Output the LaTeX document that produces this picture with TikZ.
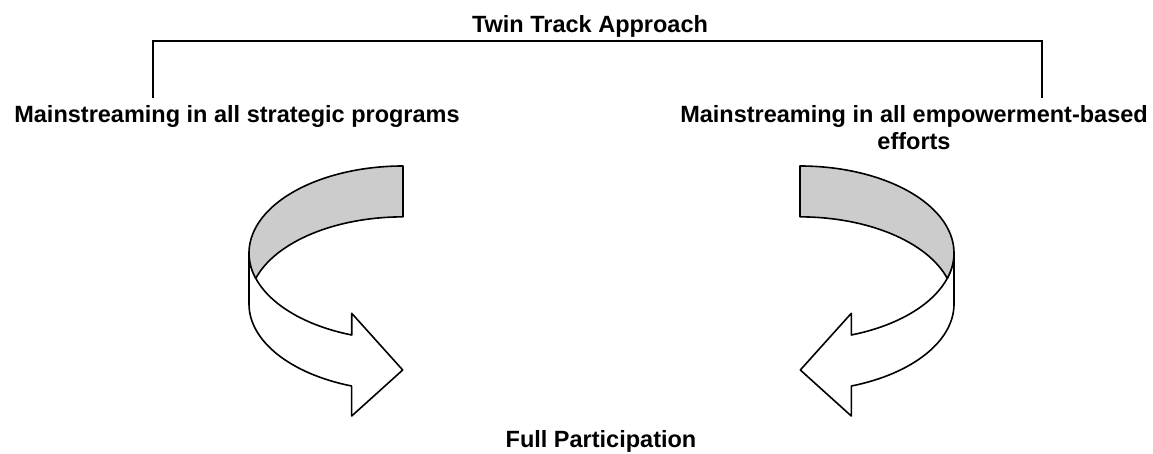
\documentclass[tikz,border=0pt]{standalone}
\usepackage{fontspec}
\setmainfont{Liberation Sans}
\definecolor{ribbon}{gray}{0.8}
\tikzset{
  txt/.style={font=\bfseries\fontsize{23.5}{27}\selectfont, inner sep=0pt, anchor=base},
  band/.style={draw=black, line width=1.6pt, line join=round},
  bracket/.style={draw=black, line width=1.8pt}
}
% one curled arrow, drawn with its turn on the left
\newcommand{\curlarrow}{%
  \draw[band, fill=white] (249,201) -- (249,150)
    arc[start angle=180, end angle=250.5, x radius=154, y radius=87]
    -- (351.7,38) -- (402.7,84) -- (351.7,140.7) -- (351.7,119)
    arc[start angle=250.5, end angle=180, x radius=154, y radius=87] -- cycle;
  \draw[band, fill=ribbon] (403,288)
    arc[start angle=90, end angle=197, x radius=154, y radius=87]
    arc[start angle=163, end angle=90, x radius=154, y radius=87] -- cycle;
}
\begin{document}
\begin{tikzpicture}[x=1pt, y=1pt]
  \useasboundingbox (0,0) rectangle (1153,454);

  \node[txt] (title) at (590,421) {Twin Track Approach};
  \node[txt] (strategic) at (237,331) {Mainstreaming in all strategic programs};
  \node[txt, align=center] (empower) at (914,304) {Mainstreaming in all empowerment-based\\efforts};
  \node[txt] (full) at (601,6) {Full Participation};

  \coordinate (bl) at (153,356);
  \coordinate (tl) at (153,413);
  \coordinate (br) at (1042,356);
  \draw[bracket] (bl) -- (tl) -| (br);

  \curlarrow
  \begin{scope}[xshift=1203pt, xscale=-1]
    \curlarrow
  \end{scope}
\end{tikzpicture}
\end{document}
